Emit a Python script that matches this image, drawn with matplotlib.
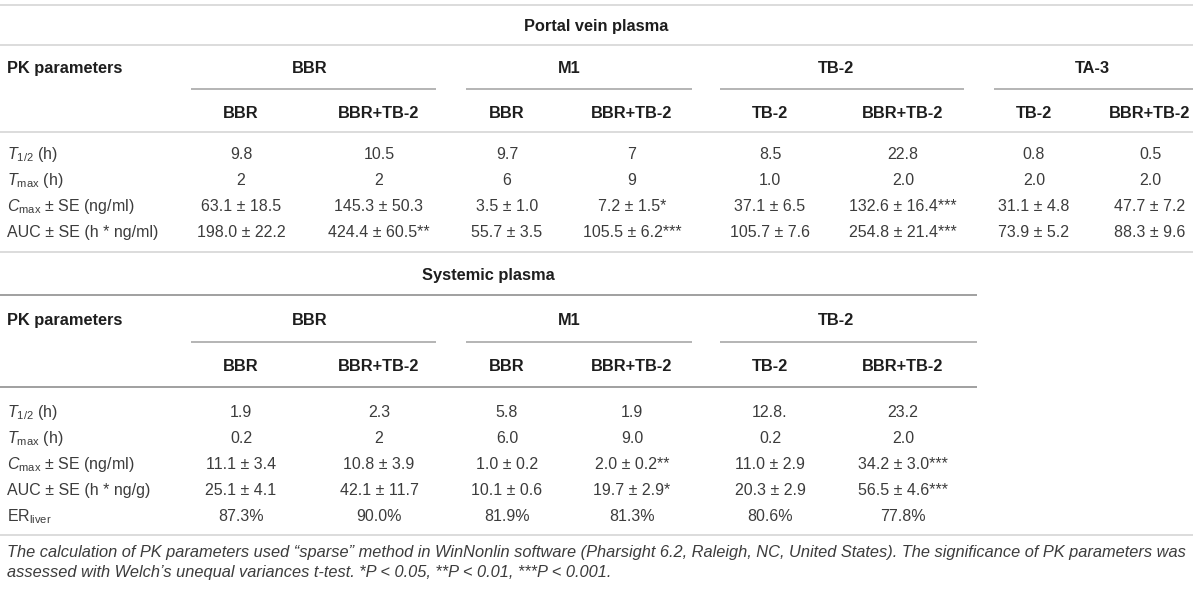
# PK parameter table for portal vein and systemic plasma, drawn as text.
import matplotlib.pyplot as plt

plt.rcParams["font.family"] = ["Liberation Sans", "DejaVu Sans"]
plt.rcParams["mathtext.fontset"] = "custom"
plt.rcParams["mathtext.rm"] = "Liberation Sans"
plt.rcParams["mathtext.it"] = "Liberation Sans:italic"
plt.rcParams["mathtext.bf"] = "Liberation Sans:bold"

# ==========================================================
# table data
portal_title = "Portal vein plasma"
portal_groups = ["BBR", "M1", "TB-2", "TA-3"]
portal_subcols = ["BBR", "BBR+TB-2", "BBR", "BBR+TB-2",
                  "TB-2", "BBR+TB-2", "TB-2", "BBR+TB-2"]
portal_params = [r"$T_{\mathrm{1/2}}$ (h)", r"$T_{\mathrm{max}}$ (h)",
                 r"$C_{\mathrm{max}}$ ± SE (ng/ml)", "AUC ± SE (h * ng/ml)"]
portal_t_half = ["9.8", "10.5", "9.7", "7", "8.5", "22.8", "0.8", "0.5"]
portal_t_max = ["2", "2", "6", "9", "1.0", "2.0", "2.0", "2.0"]
portal_c_max = ["63.1 ± 18.5", "145.3 ± 50.3", "3.5 ± 1.0", "7.2 ± 1.5*",
                "37.1 ± 6.5", "132.6 ± 16.4***", "31.1 ± 4.8", "47.7 ± 7.2"]
portal_auc = ["198.0 ± 22.2", "424.4 ± 60.5**", "55.7 ± 3.5", "105.5 ± 6.2***",
              "105.7 ± 7.6", "254.8 ± 21.4***", "73.9 ± 5.2", "88.3 ± 9.6"]

systemic_title = "Systemic plasma"
systemic_groups = ["BBR", "M1", "TB-2"]
systemic_subcols = ["BBR", "BBR+TB-2", "BBR", "BBR+TB-2", "TB-2", "BBR+TB-2"]
systemic_params = [r"$T_{\mathrm{1/2}}$ (h)", r"$T_{\mathrm{max}}$ (h)",
                   r"$C_{\mathrm{max}}$ ± SE (ng/ml)", "AUC ± SE (h * ng/g)",
                   r"ER$_{\mathrm{liver}}$"]
systemic_t_half = ["1.9", "2.3", "5.8", "1.9", "12.8.", "23.2"]
systemic_t_max = ["0.2", "2", "6.0", "9.0", "0.2", "2.0"]
systemic_c_max = ["11.1 ± 3.4", "10.8 ± 3.9", "1.0 ± 0.2", "2.0 ± 0.2**",
                  "11.0 ± 2.9", "34.2 ± 3.0***"]
systemic_auc = ["25.1 ± 4.1", "42.1 ± 11.7", "10.1 ± 0.6", "19.7 ± 2.9*",
                "20.3 ± 2.9", "56.5 ± 4.6***"]
systemic_er = ["87.3%", "90.0%", "81.9%", "81.3%", "80.6%", "77.8%"]

footnote = [
    "The calculation of PK parameters used \u201csparse\u201d method in WinNonlin "
    "software (Pharsight 6.2, Raleigh, NC, United States). The significance of "
    "PK parameters was",
    "assessed with Welch\u2019s unequal variances t-test. *P < 0.05, **P < 0.01, "
    "***P < 0.001.",
]

# ==========================================================
# layout (pixels, y downwards)
W, H = 1200, 589
col_x = [241, 379, 507, 632, 770, 903, 1034, 1150]
group_lines = [(191, 436), (466, 692), (720, 964), (994, 1193)]
label_x = 7
fs = 11.5
fs_bold = 11.8
body_color = "#3c3c3c"
head_color = "#1e1e1e"
light = "#dcdcdc"
mid = "#a0a0a0"

# y of: title, line, header, group line, sub header, line, first row
portal_y = [25, 45, 67, 89, 112, 132, 153]
systemic_y = [274, 295, 319, 342, 365, 387, 411]
row_step = 26

fig = plt.figure(figsize=(W / 100, H / 100), dpi=100)
ax = fig.add_axes([0, 0, 1, 1])
ax.set_xlim(0, W)
ax.set_ylim(H, 0)
ax.axis("off")


def hline(x0, x1, y, color, lw=1.4):
    ax.plot([x0, x1], [y, y], color=color, lw=lw, solid_capstyle="butt")


def put(x, y, s, bold=False, ha="center", italic=False, size=None):
    # y is the visual middle of capitals; place by baseline
    if size is None:
        size = fs_bold if bold else fs
    ax.text(x, y + 5.8, s, ha=ha, va="baseline", fontsize=size,
            fontweight="bold" if bold else "normal",
            fontstyle="italic" if italic else "normal",
            color=head_color if bold else body_color)


def draw_section(ys, title, groups, subcols, params, rows, right, line_col):
    """
    Draw one block of the table, ys gives the vertical positions.
    Returns the y of the last data row.
    """
    put(right / 2, ys[0], title, bold=True)
    hline(0, right, ys[1], line_col)
    put(label_x, ys[2], "PK parameters", bold=True, ha="left")
    for g, name in enumerate(groups):
        x0, x1 = group_lines[g]
        if g == len(groups) - 1:
            x1 = right
        put((col_x[2 * g] + col_x[2 * g + 1]) / 2, ys[2], name, bold=True)
        hline(x0, x1, ys[3], mid, lw=1.1)
    for c, name in enumerate(subcols):
        put(col_x[c], ys[4], name, bold=True)
    hline(0, right, ys[5], line_col)
    y_row = ys[6]
    for r, label in enumerate(params):
        put(label_x, y_row, label, ha="left")
        for c, val in enumerate(rows[r]):
            put(col_x[c], y_row, val)
        y_row += row_step
    return y_row - row_step


hline(0, 1193, 5, light)
draw_section(portal_y, portal_title, portal_groups, portal_subcols, portal_params,
             [portal_t_half, portal_t_max, portal_c_max, portal_auc],
             1193, light)
hline(0, 1193, 252, light)
draw_section(systemic_y, systemic_title, systemic_groups, systemic_subcols,
             systemic_params,
             [systemic_t_half, systemic_t_max, systemic_c_max,
              systemic_auc, systemic_er],
             977, mid)
hline(0, 1193, 535, light)
for i, line in enumerate(footnote):
    put(label_x, 551 + i * 20, line, ha="left", italic=True, size=11.8)

fig.savefig("out.png", dpi=100)
